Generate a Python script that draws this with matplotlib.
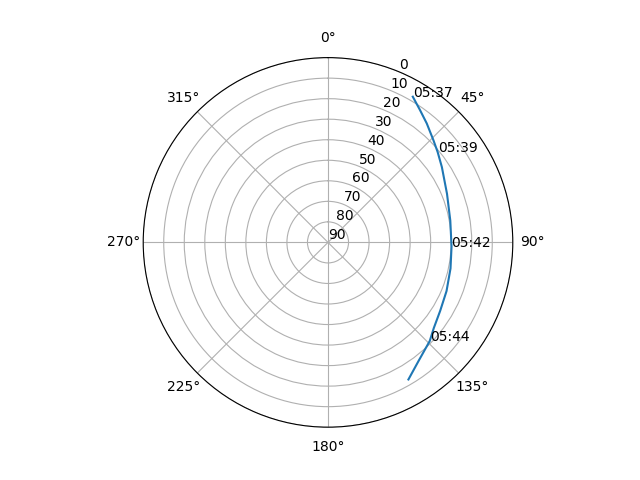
import numpy as np
import matplotlib
matplotlib.use("Agg")
import matplotlib.pyplot as plt

# satellite pass track: azimuth (deg, clockwise from north) and elevation (deg)
track_az = [30.2, 34.8, 39.7, 45.9, 50.5, 56.5, 67.8, 79.9, 92.0, 102.0,
            112.3, 121.4, 129.0, 134.1, 142.7, 149.6]
track_el = [7.9, 11.5, 14.7, 18.5, 20.8, 23.5, 27.4, 29.5, 29.8, 29.0,
            27.6, 26.0, 23.7, 21.0, 17.3, 12.6]

# time annotations along the pass
label_times = ["05:37", "05:39", "05:42", "05:44"]
label_az = [30.2, 50.5, 92.0, 134.1]
label_el = [7.9, 20.8, 29.8, 21.0]

fig = plt.figure(figsize=(6.4, 4.8), dpi=100)
ax = fig.add_subplot(projection="polar")
ax.set_theta_zero_location("N")
ax.set_theta_direction(-1)

ax.plot(np.radians(track_az), track_el)
for t, az, el in zip(label_times, label_az, label_el):
    ax.text(np.radians(az), el, t)

ax.set_yticks(range(0, 91, 10))
ax.set_ylim(90, 0)

fig.savefig("out.png")
